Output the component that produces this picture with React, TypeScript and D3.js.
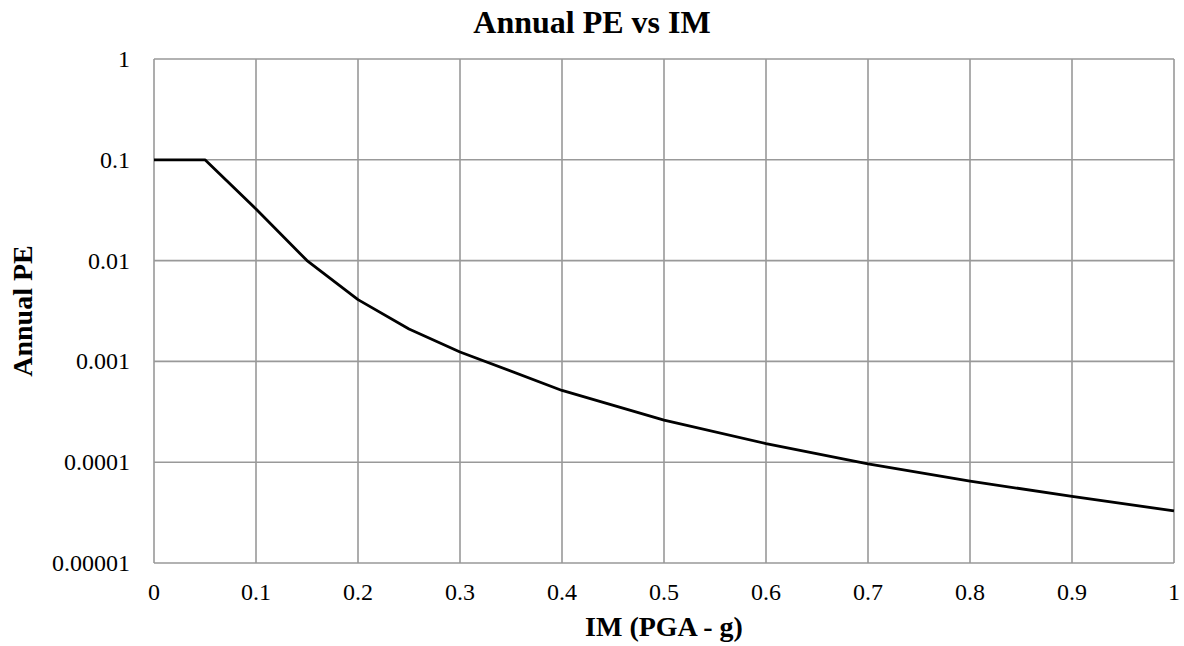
import React from "react";
import * as d3 from "d3";

// Hazard curve: intensity measure (PGA, g) vs annual probability of exceedance
const imValues = [0, 0.05, 0.1, 0.15, 0.2, 0.25, 0.3, 0.4, 0.5, 0.6, 0.7, 0.8, 0.9, 1.0];
const annualPE = [0.1, 0.1, 0.0325, 0.01, 0.0041, 0.0021, 0.00124, 0.000515, 0.000262, 0.000153, 0.0000965, 0.000065, 0.0000457, 0.0000329];

const xTicks = [0, 0.1, 0.2, 0.3, 0.4, 0.5, 0.6, 0.7, 0.8, 0.9, 1];
const xTickLabels = ["0", "0.1", "0.2", "0.3", "0.4", "0.5", "0.6", "0.7", "0.8", "0.9", "1"];
const yTicks = [1, 0.1, 0.01, 0.001, 0.0001, 0.00001];
const yTickLabels = ["1", "0.1", "0.01", "0.001", "0.0001", "0.00001"];

const W = 1184;
const H = 646;
const plot = { left: 154, right: 1174, top: 59, bottom: 563 };
const FONT = "'Liberation Serif', 'Times New Roman', serif";

export default function App() {
  const x = d3.scaleLinear().domain([0, 1]).range([plot.left, plot.right]);
  const y = d3.scaleLog().domain([0.00001, 1]).range([plot.bottom, plot.top]);

  const line = d3
    .line<number>()
    .x((_, i) => x(imValues[i]))
    .y((d) => y(d));

  const plotCx = (plot.left + plot.right) / 2;
  const plotCy = (plot.top + plot.bottom) / 2;

  return (
    <svg
      width={W}
      height={H}
      style={{ position: "absolute", left: 0, top: 0, background: "#fff" }}
      fontFamily={FONT}
    >
      <rect x={0} y={0} width={W} height={H} fill="#fff" />
      <text x={W / 2} y={33} textAnchor="middle" fontSize={32} fontWeight="bold" fill="#000">
        Annual PE vs IM
      </text>

      {/* grid */}
      <g stroke="#999" strokeWidth={1.6} fill="none">
        {xTicks.map((t) => (
          <line key={"gx" + t} x1={x(t)} x2={x(t)} y1={plot.top} y2={plot.bottom} />
        ))}
        {yTicks.map((t) => (
          <line key={"gy" + t} x1={plot.left} x2={plot.right} y1={y(t)} y2={y(t)} />
        ))}
      </g>

      {/* curve */}
      <path d={line(annualPE) || ""} fill="none" stroke="#000" strokeWidth={2.8} strokeLinejoin="round" />

      {/* tick labels */}
      <g fontSize={24} fill="#000">
        {xTicks.map((t, i) => (
          <text key={"xl" + t} x={x(t)} y={600} textAnchor="middle">
            {xTickLabels[i]}
          </text>
        ))}
        {yTicks.map((t, i) => (
          <text key={"yl" + t} x={130} y={y(t) + 8} textAnchor="end">
            {yTickLabels[i]}
          </text>
        ))}
      </g>

      <text x={plotCx} y={636} textAnchor="middle" fontSize={28} fontWeight="bold" fill="#000">
        IM (PGA - g)
      </text>
      <text
        transform={`translate(32, ${plotCy}) rotate(-90)`}
        textAnchor="middle"
        fontSize={28}
        fontWeight="bold"
        fill="#000"
      >
        Annual PE
      </text>
    </svg>
  );
}
